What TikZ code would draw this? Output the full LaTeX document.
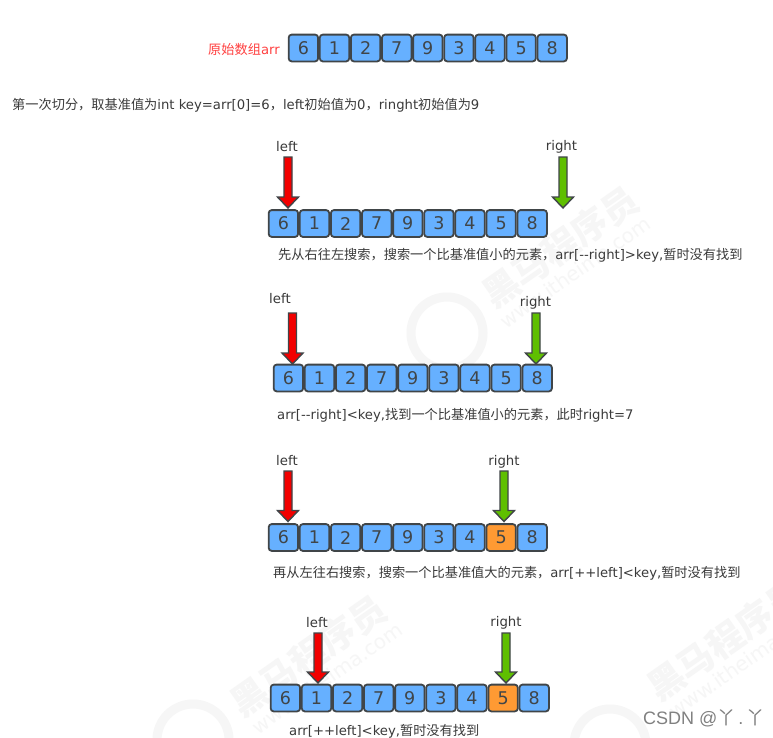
\documentclass[tikz,border=0pt]{standalone}
\usepackage{fontspec}
\setmainfont{DejaVu Sans}
\newfontfamily\cjk{Noto Sans CJK SC}
\newfontfamily\credit{Liberation Sans}
\newcommand{\C}[1]{{\cjk #1}}
\definecolor{cellblue}{HTML}{66B0FF}
\definecolor{cellorange}{HTML}{FF9A33}
\definecolor{edgegray}{HTML}{404548}
\definecolor{txt}{HTML}{3A3A3A}
\definecolor{arrred}{HTML}{F20000}
\definecolor{arrgreen}{HTML}{5FBF00}
\definecolor{wm}{HTML}{F6F6F6}
\tikzset{
 x=1pt,y=-1pt,
 cell/.style={draw=edgegray,line width=1.8pt,rounded corners=3pt,fill=cellblue,minimum width=29.4pt,minimum height=26.8pt,inner sep=0pt,font=\fontsize{17.5}{17.5}\selectfont,text=edgegray},
 hot/.style={cell,fill=cellorange},
 lab/.style={font=\fontsize{13.2}{15}\selectfont,text=txt,inner sep=0pt,anchor=west},
 ptr/.style={font=\fontsize{13.3}{15}\selectfont,text=txt,inner sep=0pt},
 wmark/.style={font=\fontsize{36}{36}\selectfont\cjk\bfseries,text=wm,rotate=35,inner sep=0pt},
 wmurl/.style={font=\fontsize{20}{20}\selectfont,text=wm,rotate=35,inner sep=0pt},
 wring/.style={draw=wm,line width=9pt,circle,minimum size=72pt,inner sep=0pt},
 arrowshape/.style={draw=edgegray,line width=1.4pt,line join=miter},
}
% \arrowdown{name}{x}{top}{tip}{colour}
\newcommand{\arrowdown}[5]{%
 \coordinate (#1) at (#2,#4);
 \draw[arrowshape,fill=#5] (#2-4,#3) -- (#2+4,#3) -- (#2+4,#4-11) -- (#2+10.5,#4-11) -- (#2,#4) -- (#2-10.5,#4-11) -- (#2-4,#4-11) -- cycle;}
% \arow{prefix}{x0}{ycentre}{orange index}
\newcommand{\arow}[4]{%
 \foreach \v [count=\i from 0] in {6,1,2,7,9,3,4,5,8} {
  \ifnum\i=#4 \def\st{hot}\else\def\st{cell}\fi
  \node[\st] (#1\i) at (#2+15.4+\i*31.1,#3) {\v};
 }}
\begin{document}
\begin{tikzpicture}
\useasboundingbox (0,0) rectangle (773,737);
\fill[white] (0,0) rectangle (773,737);
% watermarks
\node[wmark] (w1) at (560,247) {黑马程序员};
\node[wmurl] (w2) at (575,272) {www.itheima.com};
\node[wring] (w3) at (447,333) {};
\node[wmark] (w4) at (308,656) {黑马程序员};
\node[wmurl] (w5) at (327,678) {www.itheima.com};
\node[wring] (w6) at (193,740) {};
\node[wmark] (w7) at (725,640) {黑马程序员};
\node[wmurl] (w8) at (744,662) {www.itheima.com};
\node[wring] (w9) at (610,745) {};
% row 0
\node[lab,text=red!75!white] (t0) at (208,49.5) {\C{原始数组}arr};
\arow{a}{288}{48}{-1}
\node[lab] (t1) at (12,105.5) {\C{第一次切分，取基准值为}int key=arr[0]=6\C{，}left\C{初始值为}0\C{，}ringht\C{初始值为}9};
% row 1
\node[ptr] (l1) at (287,147) {left};
\node[ptr] (r1) at (561.5,147) {right};
\arrowdown{pl1}{288}{157}{208}{arrred}
\arrowdown{pr1}{563}{157}{208}{arrgreen}
\arow{b}{268}{223.5}{-1}
\node[lab] (t2) at (278,255.5) {\C{先从右往左搜索，搜索一个比基准值小的元素，}arr[-{}-right]>key,\C{暂时没有找到}};
% row 2
\node[ptr] (l2) at (280,299) {left};
\node[ptr] (r2) at (535.5,303) {right};
\arrowdown{pl2}{292.5}{313}{364}{arrred}
\arrowdown{pr2}{536}{313}{364}{arrgreen}
\arow{c}{273}{378}{-1}
\node[lab] (t3) at (277,415.5) {arr[-{}-right]<key,\C{找到一个比基准值小的元素，此时}right=7};
% row 3
\node[ptr] (l3) at (287,461) {left};
\node[ptr] (r3) at (504,462) {right};
\arrowdown{pl3}{288}{471}{521.5}{arrred}
\arrowdown{pr3}{504}{471}{521.5}{arrgreen}
\arow{d}{268}{537.5}{7}
\node[lab] (t4) at (273,573.5) {\C{再从左往右搜索，搜索一个比基准值大的元素，}arr[++left]<key,\C{暂时没有找到}};
% row 4
\node[ptr] (l4) at (317,623) {left};
\node[ptr] (r4) at (506,623) {right};
\arrowdown{pl4}{318}{633}{683}{arrred}
\arrowdown{pr4}{506}{633}{683}{arrgreen}
\arow{e}{270}{698}{7}
\node[lab] (t5) at (289,731.5) {arr[++left]<key,\C{暂时没有找到}};
% credit
\node[lab,text=black!50,font=\fontsize{18}{18}\selectfont\credit] (csdn) at (643,718) {CSDN @\C{丫}\,.\,\C{丫}};
\end{tikzpicture}
\end{document}
